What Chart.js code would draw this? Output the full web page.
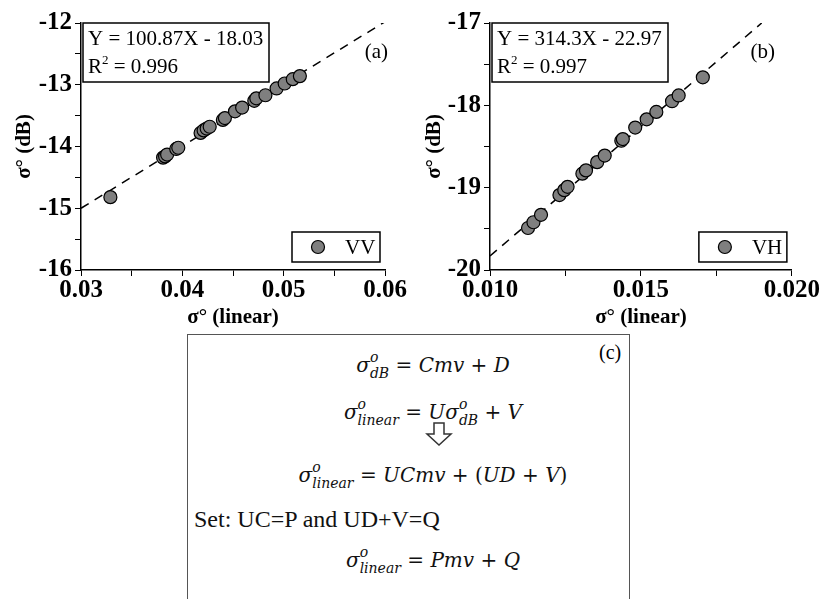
<!DOCTYPE html>
<html>
<head>
<meta charset="utf-8">
<script src="https://cdn.jsdelivr.net/npm/chart.js@4.4.0/dist/chart.umd.min.js"></script>
<style>
body { margin:0; background:#fff; width:820px; height:599px; overflow:hidden; position:relative; }
canvas { position:absolute; top:0; }
#chartA { left:0; }
#chartB { left:410px; }
#box { position:absolute; left:187px; top:334px; width:441px; height:280px; border:1.5px solid #555; border-bottom:none; }
.ln { position:absolute; left:0; width:490px; text-align:center; font-family:'DejaVu Serif', serif; font-size:20px; line-height:30px; white-space:nowrap; color:#111; }
.ln i { font-style:italic; }
.ss { display:inline-flex; flex-direction:column; font-size:14px; line-height:16px; vertical-align:10px; text-align:left; font-style:italic; }
.set { font-family:'Liberation Serif', serif; font-size:24px; text-align:left; left:6px; }
.arrow { position:absolute; left:237px; top:87px; }
#tagC { position:absolute; left:411px; top:6px; font-family:'Liberation Serif', serif; font-size:20px; }
</style>
</head>
<body>
<canvas id="chartA" width="410" height="330"></canvas>
<canvas id="chartB" width="410" height="330"></canvas>
<div id="box">
    <div class="ln" style="top:14px"><i>σ</i><span class="ss"><span>o</span><span>dB</span></span> = <i>Cmv</i> + <i>D</i></div>
    <div class="ln" style="top:61px"><i>σ</i><span class="ss"><span>o</span><span>linear</span></span> = <i>Uσ</i><span class="ss"><span>o</span><span>dB</span></span> + <i>V</i></div>
    <svg class="arrow" width="28" height="24" viewBox="0 0 28 24">
        <polygon points="9,1 19,1 19,12 26,12 14,23 2,12 9,12" fill="#fff" stroke="#333" stroke-width="1.5"/>
    </svg>
    <div class="ln" style="top:124px"><i>σ</i><span class="ss"><span>o</span><span>linear</span></span> = <i>UCmv</i> + (<i>UD</i> + <i>V</i>)</div>
    <div class="ln set" style="top:169px">Set: UC=P and UD+V=Q</div>
    <div class="ln" style="top:209px"><i>σ</i><span class="ss"><span>o</span><span>linear</span></span> = <i>Pmv</i> + <i>Q</i></div>
    <div id="tagC">(c)</div>
</div>
<script>
// VV panel (a)
const vvX = [0.0329, 0.0381, 0.0383, 0.0385, 0.0394, 0.0396, 0.0418, 0.0421, 0.0424, 0.0427, 0.0440,
             0.0442, 0.0452, 0.0459, 0.0471, 0.0473, 0.0482, 0.0493, 0.0501, 0.0509, 0.0516];
const vvY = [-14.82, -14.18, -14.16, -14.13, -14.04, -14.02, -13.78, -13.74, -13.71, -13.68, -13.57,
             -13.54, -13.43, -13.37, -13.26, -13.22, -13.17, -13.06, -12.98, -12.91, -12.86];
const vvFitX = [0.03, 0.06];
const vvFitY = [-15.0, -11.98];

// VH panel (b)
const vhX = [0.01126, 0.01144, 0.01169, 0.0123, 0.01246, 0.01257, 0.01306, 0.01318, 0.01355,
             0.0138, 0.01435, 0.0144, 0.01481, 0.01519, 0.01551, 0.01603, 0.01625, 0.01705];
const vhY = [-19.49, -19.42, -19.33, -19.09, -19.03, -18.99, -18.83, -18.79, -18.69,
             -18.61, -18.43, -18.41, -18.27, -18.17, -18.08, -17.95, -17.88, -17.66];
const vhFitX = [0.010, 0.019];
const vhFitY = [-19.83, -17.0];

const serif = '"Liberation Serif", "Times New Roman", serif';
const pts = (xs, ys) => xs.map((x, i) => ({x: x, y: ys[i]}));

// equation box, panel letter and legend box
const panelText = {
    id: 'panelText',
    afterDraw(chart, args, o) {
        const {ctx, chartArea: a} = chart;
        ctx.save();
        ctx.strokeStyle = '#000';
        ctx.fillStyle = '#000';
        ctx.lineWidth = 1.5;
        ctx.textBaseline = 'middle';
        ctx.font = '21px ' + serif;

        ctx.strokeRect(a.left + 2, a.top, o.boxW, 59);
        ctx.fillText(o.eq, a.left + 7, a.top + 16);
        let x = a.left + 7;
        ctx.fillText('R', x, a.top + 44);
        x += ctx.measureText('R').width;
        ctx.font = '13px ' + serif;
        ctx.fillText('2', x, a.top + 38);
        x += ctx.measureText('2').width;
        ctx.font = '21px ' + serif;
        ctx.fillText(' = ' + o.r2, x, a.top + 44);

        ctx.textAlign = 'right';
        ctx.fillText(o.tag, a.right + o.tagDx, a.top + 29);

        const lx = a.right - 93, ly = a.bottom - 38;
        ctx.strokeRect(lx, ly, 88, 30);
        ctx.beginPath();
        ctx.arc(lx + 26, ly + 15, 6.5, 0, Math.PI * 2);
        ctx.fillStyle = '#7f7f7f';
        ctx.fill();
        ctx.lineWidth = 1.2;
        ctx.stroke();
        ctx.fillStyle = '#000';
        ctx.textAlign = 'left';
        ctx.fillText(o.name, lx + 53, ly + 16);
        ctx.restore();
    }
};

function makeChart(id, xs, ys, fx, fy, o) {
    return new Chart(document.getElementById(id), {
        type: 'scatter',
        data: {
            datasets: [
                {
                    data: pts(xs, ys),
                    backgroundColor: '#7f7f7f',
                    borderColor: '#000',
                    borderWidth: 1.2,
                    pointRadius: 6.5
                },
                {
                    data: pts(fx, fy),
                    showLine: true,
                    pointRadius: 0,
                    borderColor: '#000',
                    borderWidth: 1.5,
                    borderDash: [9, 7]
                }
            ]
        },
        options: {
            responsive: false,
            animation: false,
            layout: {padding: {left: 0, top: 23, right: 25, bottom: 0}},
            plugins: {
                legend: {display: false},
                tooltip: {enabled: false},
                panelText: o
            },
            scales: {
                x: {
                    min: o.xMin, max: o.xMax,
                    afterFit: s => { s.height = 60; },
                    border: {color: '#000', width: 1.5},
                    grid: {drawOnChartArea: false, color: '#000', tickLength: 6},
                    ticks: {
                        stepSize: o.xStep / 2,
                        autoSkip: false, maxRotation: 0, padding: 0,
                        color: '#000',
                        font: {family: serif, size: 25, weight: 'bold'},
                        callback: v => {
                            const k = v / o.xStep;
                            return Math.abs(k - Math.round(k)) < 1e-6 ? v.toFixed(o.xDec) : '';
                        }
                    },
                    title: {
                        display: true, text: 'σ° (linear)', color: '#000',
                        font: {family: serif, size: 21, weight: 'bold'},
                        padding: {top: 0, bottom: 0}
                    }
                },
                y: {
                    min: o.yMin, max: o.yMax,
                    afterFit: s => { s.width = o.yW; },
                    border: {color: '#000', width: 1.5},
                    grid: {drawOnChartArea: false, color: '#000', tickLength: 6},
                    ticks: {
                        stepSize: 0.5,
                        autoSkip: false, padding: 3,
                        color: '#000',
                        font: {family: serif, size: 25, weight: 'bold'},
                        callback: v => Number.isInteger(v) ? v : ''
                    },
                    title: {
                        display: true, text: 'σ° (dB)', color: '#000',
                        font: {family: serif, size: 21, weight: 'bold'},
                        padding: {top: 12, bottom: 0}
                    }
                }
            }
        },
        plugins: [panelText]
    });
}

makeChart('chartA', vvX, vvY, vvFitX, vvFitY, {
    xMin: 0.03, xMax: 0.06, xStep: 0.01, xDec: 2, yMin: -16, yMax: -12, yW: 81,
    eq: 'Y = 100.87X - 18.03', r2: '0.996', boxW: 186, tag: '(a)', tagDx: 3, name: 'VV'
});
makeChart('chartB', vhX, vhY, vhFitX, vhFitY, {
    xMin: 0.010, xMax: 0.020, xStep: 0.005, xDec: 3, yMin: -20, yMax: -17, yW: 80,
    eq: 'Y = 314.3X - 22.97', r2: '0.997', boxW: 176, tag: '(b)', tagDx: -17, name: 'VH'
});
</script>
</body>
</html>
